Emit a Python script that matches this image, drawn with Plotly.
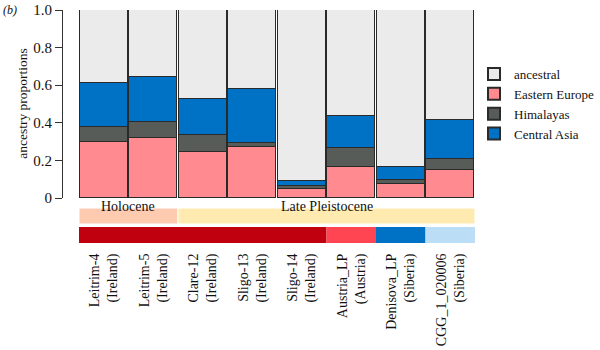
import plotly.graph_objects as go

samples = ["Leitrim-4", "Leitrim-5", "Clare-12", "Sligo-13", "Sligo-14",
           "Austria_LP", "Denisova_LP", "CGG_1_020006"]
locations = ["Ireland", "Ireland", "Ireland", "Ireland", "Ireland",
             "Austria", "Siberia", "Siberia"]
periods = ["Holocene", "Holocene", "Late Pleistocene", "Late Pleistocene",
           "Late Pleistocene", "Late Pleistocene", "Late Pleistocene", "Late Pleistocene"]

eastern_europe = [0.298, 0.317, 0.246, 0.271, 0.046, 0.165, 0.076, 0.151]
himalayas = [0.078, 0.086, 0.087, 0.023, 0.016, 0.103, 0.018, 0.058]
central_asia = [0.236, 0.242, 0.195, 0.284, 0.030, 0.168, 0.069, 0.204]
ancestral = [0.388, 0.355, 0.472, 0.422, 0.908, 0.564, 0.837, 0.587]

ytick_vals = [0, 0.2, 0.4, 0.6, 0.8, 1.0]
ytick_text = ["0", "0.2", "0.4", "0.6", "0.8", "1.0"]

# styles
FONT = "Liberation Serif"
series = [
    ("Eastern Europe", eastern_europe, "#FF8A8F", 2),
    ("Himalayas", himalayas, "#575C58", 3),
    ("Central Asia", central_asia, "#0072C6", 4),
    ("ancestral", ancestral, "#EBEBEB", 1),
]
period_colors = {"Holocene": "#FFCBB0", "Late Pleistocene": "#FFEBB0"}
sample_band_colors = ["#C0000F", "#C0000F", "#C0000F", "#C0000F", "#C0000F",
                      "#FF4552", "#0072C6", "#BBDDF5"]

x = list(range(len(samples)))
ticklabels = [f"{s}<br>({l})" for s, l in zip(samples, locations)]

fig = go.Figure()
for name, vals, col, rank in series:
    fig.add_trace(go.Bar(
        x=x, y=vals, name=name, width=0.965,
        marker=dict(color=col, line=dict(color="#2a2a2a", width=1)),
        legendrank=rank,
    ))

# bands: group contiguous runs
def runs(values):
    out = []
    start = 0
    for i in range(1, len(values) + 1):
        if i == len(values) or values[i] != values[start]:
            out.append((start, i - 1, values[start]))
            start = i
    return out

shapes = []
annotations = []
P1_TOP, P1_BOT = 0.150, 0.0815
P2_TOP, P2_BOT = 0.0687, 0.0
for a, b, per in runs(periods):
    shapes.append(dict(type="rect", xref="x", yref="paper", x0=a - 0.5, x1=b + 0.5,
                       y0=P1_BOT, y1=P1_TOP, fillcolor=period_colors[per],
                       line=dict(color="white", width=1), layer="below"))
    annotations.append(dict(x=(a + b) / 2, y=(P1_TOP + P1_BOT) / 2, xref="x", yref="paper",
                            text=per, showarrow=False,
                            font=dict(family=FONT, size=14, color="#111")))
for a, b, col in runs(sample_band_colors):
    shapes.append(dict(type="rect", xref="x", yref="paper", x0=a - 0.5, x1=b + 0.5,
                       y0=P2_BOT, y1=P2_TOP, fillcolor=col, line=dict(width=0),
                       layer="below"))

annotations.append(dict(x=-0.121, y=0.600, xref="paper", yref="paper",
                        text="ancestry proportions", textangle=-90, showarrow=False,
                        font=dict(family=FONT, size=13.5, color="#111")))
annotations.append(dict(x=-0.150, y=1.0, xref="paper", yref="paper", xanchor="left",
                        yanchor="middle", text="<i>(b)</i>", showarrow=False,
                        font=dict(family=FONT, size=12, color="#111")))

fig.update_layout(
    width=600, height=350,
    margin=dict(l=63, r=125, t=10, b=107, autoexpand=False),
    plot_bgcolor="white", paper_bgcolor="white",
    barmode="stack", bargap=0,
    font=dict(family=FONT, size=13, color="#111"),
    showlegend=True,
    legend=dict(x=0.9976, y=0.79, xanchor="left", yanchor="top",
                traceorder="normal",
                font=dict(family=FONT, size=13, color="#111"),
                itemsizing="constant", tracegroupgap=0,
                bgcolor="rgba(0,0,0,0)"),
    shapes=shapes, annotations=annotations,
    xaxis=dict(range=[-0.823, 7.5], tickvals=x, ticktext=ticklabels, tickangle=-90,
               showgrid=False, zeroline=False, showline=False,
               anchor="free", position=0, ticks="outside", ticklen=4,
               tickcolor="rgba(0,0,0,0)", automargin=False,
               tickfont=dict(family=FONT, size=14, color="#111")),
    yaxis=dict(domain=[0.1931, 1], range=[0, 1], tickvals=ytick_vals, ticktext=ytick_text,
               showgrid=False, zeroline=False, showline=True, linecolor="#333",
               linewidth=1, ticks="outside", ticklen=7, tickcolor="#333",
               automargin=False,
               tickfont=dict(family=FONT, size=15, color="#111")),
)

fig.write_html("out.html")
